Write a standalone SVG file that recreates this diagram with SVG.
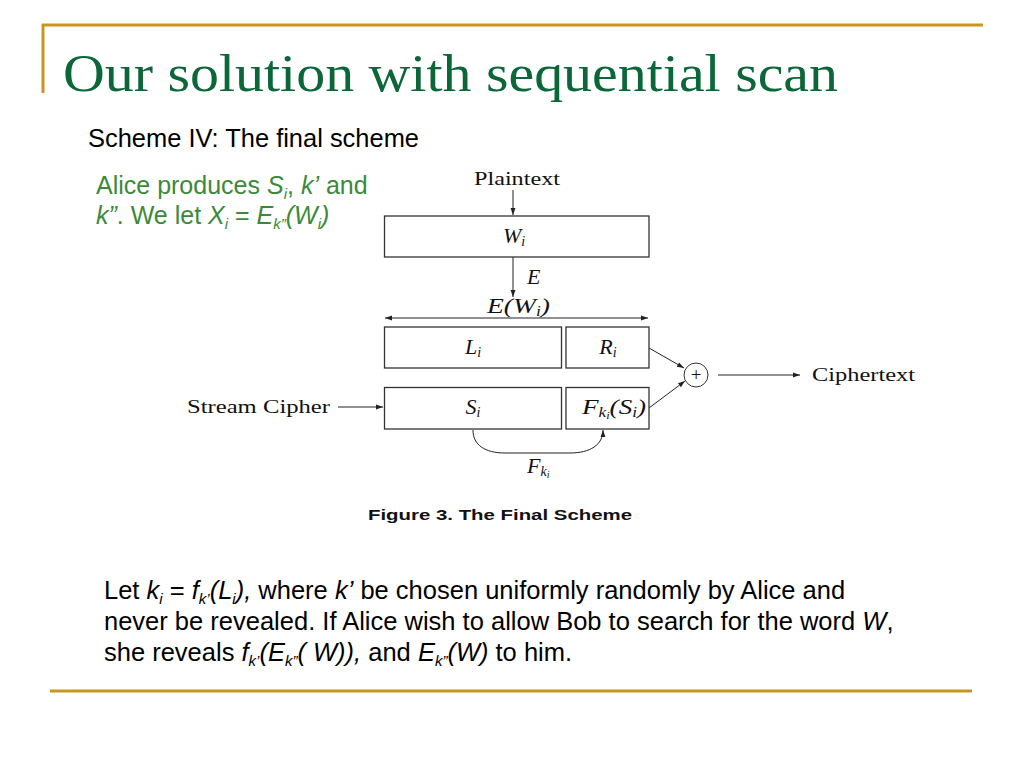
<svg xmlns="http://www.w3.org/2000/svg" width="1024" height="768" viewBox="0 0 1024 768">
<defs>
<style>
.rule{stroke:#c8961e;stroke-width:3;fill:none}
.title{font-family:"Liberation Serif",serif;font-size:52px;fill:#0b6638}
.sans{font-family:"Liberation Sans",Arial,sans-serif;font-size:25px;fill:#000}
.body{font-size:25.5px}
.green{fill:#3a8a3a}
.it{font-style:italic}
.box{fill:#fff;stroke:#333;stroke-width:1.3}
.ln{stroke:#222;stroke-width:1;fill:none}
.rm{font-family:"Liberation Serif",serif;font-size:19px;fill:#111}
.mi{font-family:"Liberation Serif",serif;font-style:italic;font-size:22px;fill:#111}
.sub{font-size:14px}
.cap{font-family:"Liberation Sans",Arial,sans-serif;font-weight:bold;font-size:14.5px;fill:#111}
</style>
<marker id="ah" viewBox="0 0 10 10" refX="10" refY="5" markerWidth="7" markerHeight="7" orient="auto-start-reverse" markerUnits="userSpaceOnUse">
<path d="M0,1.5 L10,5 L0,8.5 z" fill="#222"/>
</marker>
</defs>
<rect width="1024" height="768" fill="#fff"/>
<g id="frame">
<line class="rule" x1="42" y1="25" x2="983" y2="25"/>
<line class="rule" x1="43" y1="24" x2="43" y2="93" stroke-width="2"/>
<line class="rule" x1="50" y1="691" x2="972" y2="691"/>
</g>
<text class="title" x="63" y="91" textLength="775" lengthAdjust="spacingAndGlyphs">Our solution with sequential scan</text>
<text class="sans" x="88" y="147" textLength="331" lengthAdjust="spacingAndGlyphs">Scheme IV: The final scheme</text>
<text class="sans green" x="96" y="194">Alice produces <tspan class="it">S</tspan><tspan class="it" font-size="15" dy="5">i</tspan><tspan dy="-5">, </tspan><tspan class="it">k’</tspan> and</text>
<text class="sans green" x="96" y="224"><tspan class="it">k”</tspan>. We let <tspan class="it">X</tspan><tspan class="it" font-size="15" dy="5">i</tspan><tspan dy="-5"> = </tspan><tspan class="it">E</tspan><tspan class="it" font-size="15" dy="5">k”</tspan><tspan class="it" dy="-5">(W</tspan><tspan class="it" font-size="15" dy="5">i</tspan><tspan class="it" dy="-5">)</tspan></text>

<g id="connectors">
<line class="ln" x1="513" y1="190" x2="513" y2="215" marker-end="url(#ah)"/>
<line class="ln" x1="513" y1="257" x2="513" y2="297" marker-end="url(#ah)"/>
<line class="ln" x1="385" y1="318" x2="648" y2="318" marker-start="url(#ah)" marker-end="url(#ah)"/>
<line class="ln" x1="338" y1="407" x2="383" y2="407" marker-end="url(#ah)"/>
<path class="ln" d="M473,430 C473,445 485,453 505,453 L570,453 C590,453 603,445 603,430" marker-end="url(#ah)"/>
<line class="ln" x1="649" y1="348" x2="684" y2="368" marker-end="url(#ah)"/>
<line class="ln" x1="649" y1="408" x2="685" y2="381" marker-end="url(#ah)"/>
<line class="ln" x1="718" y1="375" x2="800" y2="375" marker-end="url(#ah)"/>
</g>

<g id="plaintext"><text class="rm" x="474" y="185" textLength="86" lengthAdjust="spacingAndGlyphs">Plaintext</text></g>
<g id="wi"><rect class="box" x="384.5" y="216" width="264.5" height="41"/><text class="mi" x="514" y="243" text-anchor="middle">W<tspan class="sub" dy="3">i</tspan></text></g>
<g id="e-label"><text class="mi" x="527" y="284">E</text></g>
<g id="ewi"><text class="mi" x="487" y="313" textLength="63" lengthAdjust="spacingAndGlyphs">E(W<tspan class="sub" dy="3">i</tspan><tspan dy="-3">)</tspan></text></g>
<g id="li"><rect class="box" x="384.5" y="327" width="177" height="41"/><text class="mi" x="473" y="354" text-anchor="middle">L<tspan class="sub" dy="3">i</tspan></text></g>
<g id="ri"><rect class="box" x="566" y="327" width="83" height="41"/><text class="mi" x="608" y="354" text-anchor="middle">R<tspan class="sub" dy="3">i</tspan></text></g>
<g id="si"><rect class="box" x="384.5" y="387.5" width="177" height="41.5"/><text class="mi" x="473" y="414" text-anchor="middle">S<tspan class="sub" dy="3">i</tspan></text></g>
<g id="fks"><rect class="box" x="566" y="387.5" width="83" height="41.5"/><text class="mi" x="582" y="414" textLength="64" lengthAdjust="spacingAndGlyphs">F<tspan class="sub" dy="3">k<tspan font-size="10" dy="2">i</tspan></tspan><tspan dy="-5">(S</tspan><tspan class="sub" dy="3">i</tspan><tspan dy="-3">)</tspan></text></g>
<g id="stream"><text class="rm" x="187" y="413" textLength="143" lengthAdjust="spacingAndGlyphs">Stream Cipher</text></g>
<g id="fk-label"><text class="mi" x="527" y="473">F<tspan class="sub" dy="3">k<tspan font-size="10" dy="2">i</tspan></tspan></text></g>
<g id="xor"><circle cx="696" cy="375" r="12" fill="#fff" stroke="#333" stroke-width="1"/><text class="rm" x="696" y="381" text-anchor="middle" font-size="17">+</text></g>
<g id="ciphertext"><text class="rm" x="812" y="381" textLength="103" lengthAdjust="spacingAndGlyphs">Ciphertext</text></g>
<text class="cap" x="368" y="520" textLength="264" lengthAdjust="spacingAndGlyphs">Figure 3. The Final Scheme</text>

<text class="sans body" x="104" y="599">Let <tspan class="it">k</tspan><tspan class="it" font-size="15" dy="5">i</tspan><tspan dy="-5"> = </tspan><tspan class="it">f</tspan><tspan class="it" font-size="15" dy="5">k’</tspan><tspan class="it" dy="-5">(L</tspan><tspan class="it" font-size="15" dy="5">i</tspan><tspan class="it" dy="-5">),</tspan> where <tspan class="it">k’</tspan> be chosen uniformly randomly by Alice and</text>
<text class="sans body" x="104" y="630">never be revealed. If Alice wish to allow Bob to search for the word <tspan class="it">W</tspan>,</text>
<text class="sans body" x="104" y="661">she reveals <tspan class="it">f</tspan><tspan class="it" font-size="15" dy="5">k’</tspan><tspan class="it" dy="-5">(E</tspan><tspan class="it" font-size="15" dy="5">k”</tspan><tspan class="it" dy="-5">( W)),</tspan> and <tspan class="it">E</tspan><tspan class="it" font-size="15" dy="5">k”</tspan><tspan class="it" dy="-5">(W)</tspan> to him.</text>
</svg>
